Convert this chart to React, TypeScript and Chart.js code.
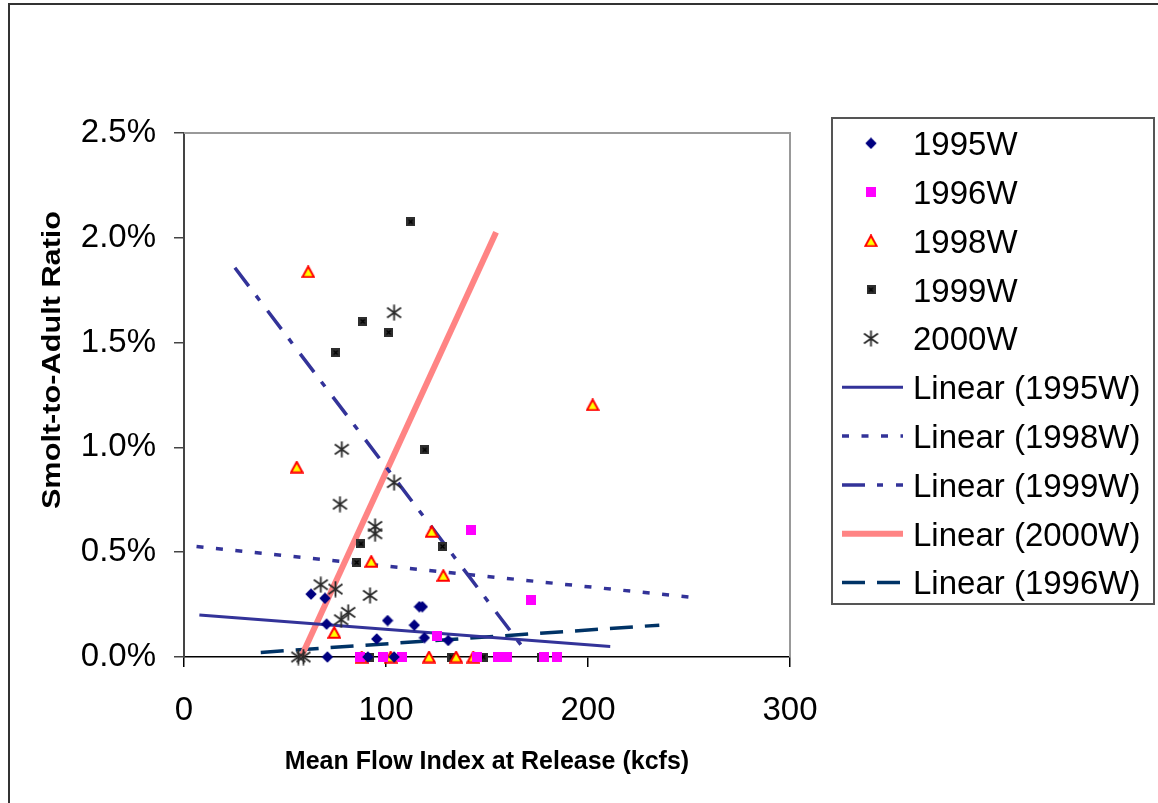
import React, { useEffect, useRef } from 'react';
import { Chart, registerables } from 'chart.js';

Chart.register(...registerables);

const W = 1158;
const H = 803;
const FONT = "'Liberation Sans', Arial, Helvetica, sans-serif";

// ---- data (x = mean flow index at release, kcfs; y = smolt-to-adult ratio, %) ----
const flow1995W = [62.9, 69.8, 70.6, 71, 91, 95.4, 100.8, 104, 114, 116.5, 118, 119, 130.8];
const sar1995W = [0.30, 0.28, 0.157, 0, 0, 0.086, 0.174, 0, 0.152, 0.24, 0.24, 0.092, 0.079];

const flow1996W = [87, 98.7, 108, 125.4, 142, 145, 155.6, 159.7, 172, 178, 184.5];
const sar1996W = [0, 0, 0, 0.10, 0.605, 0, 0, 0, 0.273, 0, 0];

const flow1998W = [55.8, 61.5, 74.4, 88, 92.7, 102.3, 121.3, 122.6, 128.4, 134.7, 143.2, 202.3];
const sar1998W = [0.906, 1.838, 0.117, 0, 0.456, 0, 0, 0.599, 0.389, 0, 0, 1.203];

const flow1999W = [75.1, 85.5, 87.6, 88.5, 91.7, 101.3, 112.2, 119.2, 128, 132.5, 148.2, 157.3, 177];
const sar1999W = [1.452, 0.451, 0.54, 1.601, 0, 1.549, 2.076, 0.988, 0.527, 0, 0, 0, 0];

const flow2000W = [56.6, 59.1, 67.7, 75, 77.2, 77.8, 78.1, 81.3, 92.1, 94.6, 94.6, 104, 104];
const sar2000W = [0, 0, 0.345, 0.324, 0.729, 0.178, 0.991, 0.213, 0.294, 0.588, 0.623, 0.832, 1.643];

// linear trend lines (end points)
const trend1995WFlow = [7.6, 211];
const trend1995WSar = [0.20, 0.05];
const trend1998WFlow = [6.2, 251.7];
const trend1998WSar = [0.527, 0.284];
const trend1999WFlow = [25.2, 170.5];
const trend1999WSar = [1.857, 0.011];
const trend2000WFlow = [58, 154.5];
const trend2000WSar = [0, 2.026];
const trend1996WFlow = [38, 235.3];
const trend1996WSar = [0.022, 0.152];

const xTickValues = [0, 100, 200, 300];
const yTickValues = [0, 0.5, 1.0, 1.5, 2.0, 2.5];

const xTitle = 'Mean Flow Index at Release (kcfs)';
const yTitle = 'Smolt-to-Adult Ratio';

const pts = (xs: number[], ys: number[]) => xs.map((x, i) => ({ x, y: ys[i] }));

function makeCanvas(w: number, h: number, draw: (c: CanvasRenderingContext2D) => void) {
  const cv = document.createElement('canvas');
  cv.width = w;
  cv.height = h;
  const c = cv.getContext('2d')!;
  draw(c);
  return cv;
}

function makeMarkers() {
  const diamond = makeCanvas(12, 12, (c) => {
    c.fillStyle = '#000080';
    c.beginPath();
    c.moveTo(6, 0.3);
    c.lineTo(11.7, 6);
    c.lineTo(6, 11.7);
    c.lineTo(0.3, 6);
    c.closePath();
    c.fill();
  });
  const square = makeCanvas(10, 10, (c) => {
    c.fillStyle = '#ff00ff';
    c.fillRect(0, 0, 10, 10);
  });
  const triangle = makeCanvas(14, 13, (c) => {
    c.beginPath();
    c.moveTo(7, 1.2);
    c.lineTo(12.8, 11.8);
    c.lineTo(1.2, 11.8);
    c.closePath();
    c.fillStyle = '#ffff00';
    c.fill();
    c.strokeStyle = '#ff0000';
    c.lineWidth = 2;
    c.lineJoin = 'miter';
    c.stroke();
  });
  const xsquare = makeCanvas(9, 9, (c) => {
    c.fillStyle = '#2e2e2e';
    c.fillRect(0, 0, 9, 9);
    c.strokeStyle = '#000';
    c.lineWidth = 1.3;
    c.beginPath();
    c.moveTo(2.5, 2.5);
    c.lineTo(6.5, 6.5);
    c.moveTo(6.5, 2.5);
    c.lineTo(2.5, 6.5);
    c.stroke();
  });
  const asterisk = makeCanvas(17, 17, (c) => {
    c.strokeStyle = '#2a2a2a';
    c.lineWidth = 1.8;
    c.beginPath();
    c.moveTo(8.5, 0.5);
    c.lineTo(8.5, 16.5);
    c.moveTo(1.5, 3.5);
    c.lineTo(15.5, 13.5);
    c.moveTo(15.5, 3.5);
    c.lineTo(1.5, 13.5);
    c.stroke();
  });
  return { diamond, square, triangle, xsquare, asterisk };
}

export default function App() {
  const ref = useRef<HTMLCanvasElement | null>(null);

  useEffect(() => {
    const canvas = ref.current;
    if (!canvas) return;
    const m = makeMarkers();

    const pointSet = (label: string, xs: number[], ys: number[], img: HTMLCanvasElement) => ({
      label,
      data: pts(xs, ys),
      pointStyle: img,
      pointRadius: 6,
      pointHoverRadius: 6,
      showLine: false,
      clip: false as any,
      order: 0,
    });
    const lineSet = (label: string, xs: number[], ys: number[], color: string, width: number, dash: number[]) => ({
      label,
      data: pts(xs, ys),
      showLine: true,
      pointRadius: 0,
      pointHoverRadius: 0,
      borderColor: color,
      backgroundColor: color,
      borderWidth: width,
      borderDash: dash,
      borderCapStyle: 'butt' as const,
      fill: false,
      order: 1,
    });

    const datasets: any[] = [
      pointSet('1995W', flow1995W, sar1995W, m.diamond),
      pointSet('1996W', flow1996W, sar1996W, m.square),
      pointSet('1998W', flow1998W, sar1998W, m.triangle),
      pointSet('1999W', flow1999W, sar1999W, m.xsquare),
      pointSet('2000W', flow2000W, sar2000W, m.asterisk),
      lineSet('Linear (1995W)', trend1995WFlow, trend1995WSar, '#333399', 3, []),
      lineSet('Linear (1998W)', trend1998WFlow, trend1998WSar, '#333399', 3.5, [7, 12.5]),
      lineSet('Linear (1999W)', trend1999WFlow, trend1999WSar, '#333399', 3.5, [23, 12, 6, 13]),
      lineSet('Linear (2000W)', trend2000WFlow, trend2000WSar, '#ff8484', 6, []),
      lineSet('Linear (1996W)', trend1996WFlow, trend1996WSar, '#003366', 3.5, [23, 12]),
    ];

    const frame = {
      id: 'frame',
      beforeDraw(chart: any) {
        const c = chart.ctx as CanvasRenderingContext2D;
        c.save();
        c.fillStyle = '#fff';
        c.fillRect(0, 0, W, H);
        c.strokeStyle = '#333';
        c.lineWidth = 2;
        c.beginPath();
        c.moveTo(9, H);
        c.lineTo(9, 4);
        c.lineTo(W, 4);
        c.stroke();
        c.restore();
      },
      beforeDatasetsDraw(chart: any) {
        const c = chart.ctx as CanvasRenderingContext2D;
        const a = chart.chartArea;
        c.save();
        c.strokeStyle = '#999';
        c.lineWidth = 2;
        c.beginPath();
        c.moveTo(a.left, a.top);
        c.lineTo(a.right, a.top);
        c.lineTo(a.right, a.bottom);
        c.stroke();
        c.restore();
      },
      afterDraw(chart: any) {
        const c = chart.ctx as CanvasRenderingContext2D;
        c.save();
        // y-axis title
        c.translate(60, 360);
        c.rotate(-Math.PI / 2);
        c.scale(1.18, 1);
        c.fillStyle = '#000';
        c.font = `bold 26px ${FONT}`;
        c.textAlign = 'center';
        c.textBaseline = 'alphabetic';
        c.fillText(yTitle, 0, 0);
        c.restore();

        // legend
        c.save();
        c.strokeStyle = '#555';
        c.lineWidth = 2;
        c.strokeRect(832, 118, 322, 486);
        const ds = chart.data.datasets;
        c.font = `33px ${FONT}`;
        c.fillStyle = '#000';
        c.textAlign = 'left';
        c.textBaseline = 'alphabetic';
        for (let i = 0; i < ds.length; i++) {
          const d = ds[i];
          const y = 143.3 + 48.8 * i;
          if (d.showLine) {
            c.save();
            c.strokeStyle = d.borderColor;
            c.lineWidth = d.borderWidth;
            c.setLineDash(d.borderDash || []);
            c.lineCap = 'butt';
            c.beginPath();
            c.moveTo(842, y);
            c.lineTo(903, y);
            c.stroke();
            c.restore();
          } else {
            const img = d.pointStyle as HTMLCanvasElement;
            c.drawImage(img, 871 - img.width / 2, y - img.height / 2);
          }
          c.fillText(d.label, 913, y + 11.8);
        }
        c.restore();
      },
    };

    const chart = new Chart(canvas, {
      type: 'scatter',
      data: { datasets },
      options: {
        animation: false,
        responsive: false,
        devicePixelRatio: 1,
        events: [],
        layout: { padding: { left: 0, top: 133, right: W - 790, bottom: 0 } },
        plugins: {
          legend: { display: false },
          tooltip: { enabled: false },
          title: { display: false },
        },
        scales: {
          x: {
            type: 'linear',
            min: xTickValues[0],
            max: xTickValues[xTickValues.length - 1],
            afterBuildTicks: (s: any) => {
              s.ticks = xTickValues.map((v) => ({ value: v }));
            },
            ticks: {
              color: '#000',
              font: { family: FONT, size: 33 },
              padding: 24,
              maxRotation: 0,
              autoSkip: false,
            },
            grid: {
              display: true,
              drawOnChartArea: false,
              drawTicks: true,
              tickLength: 10,
              color: '#000',
              lineWidth: 1.5,
            },
            border: { display: true, color: '#000', width: 1.5 },
            title: {
              display: true,
              text: xTitle,
              color: '#000',
              font: { family: FONT, size: 25, weight: 'bold' },
              padding: { top: 0, bottom: 26 },
            },
            afterFit: (s: any) => {
              s.height = H - 657;
            },
          },
          y: {
            type: 'linear',
            min: yTickValues[0],
            max: yTickValues[yTickValues.length - 1],
            afterBuildTicks: (s: any) => {
              s.ticks = yTickValues.map((v) => ({ value: v }));
            },
            ticks: {
              color: '#000',
              font: { family: FONT, size: 33 },
              padding: 18,
              autoSkip: false,
              callback: (v: any) => Number(v).toFixed(1) + '%',
            },
            grid: {
              display: true,
              drawOnChartArea: false,
              drawTicks: true,
              tickLength: 10,
              color: '#444',
              lineWidth: 1.5,
            },
            border: { display: true, color: '#444', width: 2 },
            afterFit: (s: any) => {
              s.width = 184;
            },
          },
        },
      } as any,
      plugins: [frame],
    });

    return () => {
      chart.destroy();
    };
  }, []);

  return (
    <div style={{ position: 'absolute', left: 0, top: 0, width: W, height: H, overflow: 'hidden', background: '#fff' }}>
      <canvas ref={ref} width={W} height={H} style={{ display: 'block', width: W, height: H }} />
    </div>
  );
}
